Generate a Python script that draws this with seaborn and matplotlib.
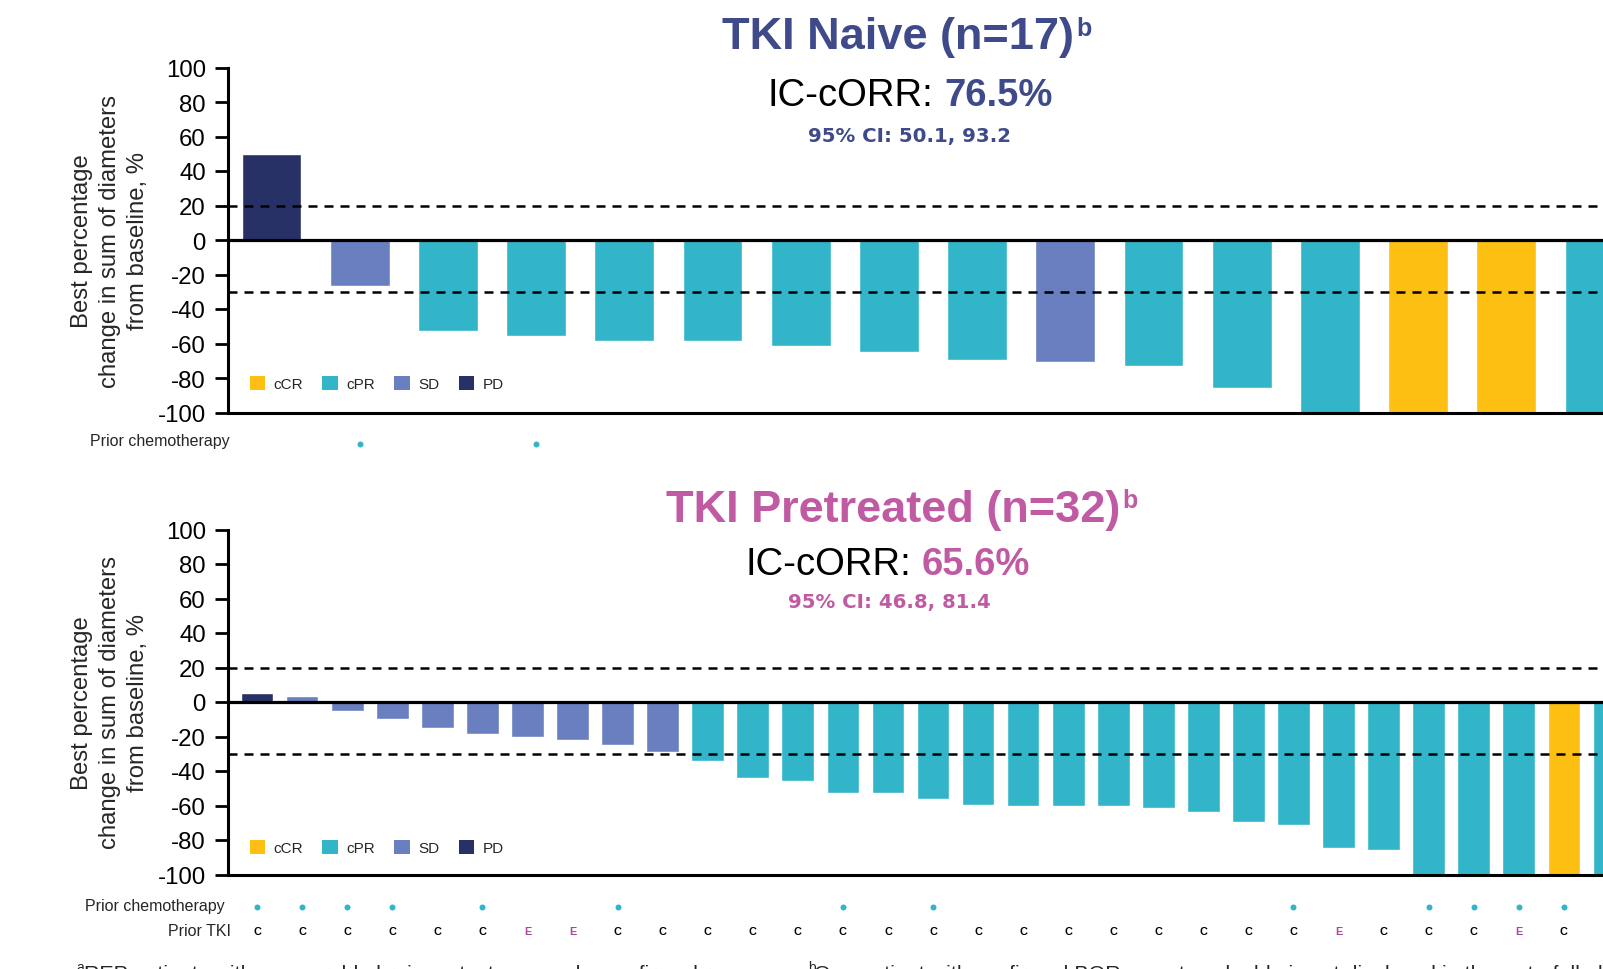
import matplotlib
matplotlib.use("Agg")
import matplotlib.pyplot as plt
from matplotlib.patches import Patch
from matplotlib.transforms import blended_transform_factory
import pandas as pd
import seaborn as sns

# ---------------------------------------------------------------- data
response_order = ["cCR", "cPR", "SD", "PD"]

naive_change = [50, -26.5, -52.5, -55.5, -58.5, -58.5, -61.5, -65, -69.5,
                -70.5, -73, -86, -100, -100, -100, -100]
naive_response = ["PD", "SD", "cPR", "cPR", "cPR", "cPR", "cPR", "cPR", "cPR",
                  "SD", "cPR", "cPR", "cPR", "cCR", "cCR", "cPR"]
naive_prior_chemo = [0, 1, 0, 1, 0, 0, 0, 0, 0, 0, 0, 0, 0, 0, 0, 0]

pretreated_change = [5.5, 3.5, -5.5, -10, -15, -18.5, -20.5, -22, -25, -29,
                     -34, -44, -46, -52.5, -52.5, -56.5, -59.5, -60, -60.5,
                     -60.5, -61.5, -63.5, -69.5, -71.5, -84.5, -86, -100,
                     -100, -100, -100, -100]
pretreated_response = ["PD", "SD", "SD", "SD", "SD", "SD", "SD", "SD", "SD",
                       "SD", "cPR", "cPR", "cPR", "cPR", "cPR", "cPR", "cPR",
                       "cPR", "cPR", "cPR", "cPR", "cPR", "cPR", "cPR", "cPR",
                       "cPR", "cPR", "cPR", "cPR", "cCR", "cPR"]
# prior-therapy annotations for patients 1-30
pretreated_prior_chemo = [1, 1, 1, 1, 0, 1, 0, 0, 1, 0, 0, 0, 0, 1, 0, 1, 0,
                          0, 0, 0, 0, 0, 0, 1, 0, 0, 1, 1, 1, 1]
pretreated_prior_tki = ["C", "C", "C", "C", "C", "C", "E", "E", "C", "C", "C",
                        "C", "C", "C", "C", "C", "C", "C", "C", "C", "C", "C",
                        "C", "C", "E", "C", "C", "C", "E", "C"]

naive_title = "TKI Naive (n=17)"
naive_orr = "76.5%"
naive_ci = "95% CI: 50.1, 93.2"
pretreated_title = "TKI Pretreated (n=32)"
pretreated_orr = "65.6%"
pretreated_ci = "95% CI: 46.8, 81.4"
ylabel = "Best percentage\nchange in sum of diameters\nfrom baseline, %"

# ---------------------------------------------------------------- style
palette = {"cCR": "#FCBF12", "cPR": "#33B5C9", "SD": "#6A7FC0", "PD": "#283166"}
NAVY_TITLE = "#3E4A89"
MAGENTA = "#C05AA2"
E_COLOR = "#B0449C"
DOT = "#33B5C9"

sns.set_style("white")
plt.rcParams["font.family"] = ["Liberation Sans", "DejaVu Sans"]
plt.rcParams["axes.unicode_minus"] = False

W, H = 1603, 970
fig = plt.figure(figsize=(W / 100, H / 100), dpi=100)


def fx(px):
    return px / W


def fy(py):
    return 1 - py / H


AX_LEFT, AX_WIDTH, AX_HEIGHT = 227.5, 1411, 345
ax_top = fig.add_axes([fx(AX_LEFT), fy(413.5), AX_WIDTH / W, AX_HEIGHT / H])
ax_bot = fig.add_axes([fx(AX_LEFT), fy(875.5), AX_WIDTH / W, AX_HEIGHT / H])


def draw_panel(ax, change, response, bar_width, pad, legend_y):
    n = len(change)
    df = pd.DataFrame({
        "patient": [f"P{i + 1:02d}" for i in range(n)],
        "change": change,
        "response": response,
    })
    sns.barplot(data=df, x="patient", y="change", hue="response",
                hue_order=response_order, palette=palette, dodge=False,
                width=bar_width, saturation=1, errorbar=None, legend=False,
                ax=ax, zorder=2)
    ax.set_xlim(-pad, n - 1 + pad)
    ax.set_ylim(-100, 100)
    ax.set_yticks(range(-100, 101, 20))
    ax.set_xticks([])
    ax.set_xlabel("")
    ax.set_ylabel("")
    ax.tick_params(axis="y", direction="out", length=9.5, width=2.0, pad=6,
                   labelsize=17.3, colors="black", left=True)
    for side in ("top", "right"):
        ax.spines[side].set_visible(False)
    for side in ("left", "bottom"):
        ax.spines[side].set_linewidth(2.2)
        ax.spines[side].set_color("black")
    ax.axhline(0, color="black", lw=2.3, zorder=5)
    for ref in (20, -30):
        ax.axhline(ref, color="black", lw=1.8, ls=(0, (3.6, 2.8)), zorder=5)
    handles = [Patch(facecolor=palette[k], edgecolor="none", label=k)
               for k in response_order]
    ax.legend(handles=handles, loc="center left",
              bbox_to_anchor=(22 / AX_WIDTH, legend_y), ncol=4, frameon=False,
              fontsize=11, handlelength=1.03, handleheight=1.03,
              handletextpad=0.55, columnspacing=1.25, borderaxespad=0,
              borderpad=0)


draw_panel(ax_top, naive_change, naive_response, 0.677, 0.5, 0.085)
draw_panel(ax_bot, pretreated_change, pretreated_response, 0.725, 0.657, 0.079)

# y-axis label for each panel
for yc in (241, 703):
    fig.text(fx(110), fy(yc), ylabel, rotation=90, ha="center", va="center",
             multialignment="center", fontsize=17.2, linespacing=1.36)

# prior therapy rows under each panel
tr_top = blended_transform_factory(ax_top.transData, fig.transFigure)
tr_bot = blended_transform_factory(ax_bot.transData, fig.transFigure)

fig.text(fx(230), fy(441.6), "Prior chemotherapy", ha="right", va="center",
         fontsize=11.5)
xs = [i for i, v in enumerate(naive_prior_chemo) if v]
ax_top.plot(xs, [fy(444.7)] * len(xs), "o", color=DOT, ms=4.3, mew=0,
            transform=tr_top, clip_on=False)

fig.text(fx(225), fy(906.8), "Prior chemotherapy", ha="right", va="center",
         fontsize=11.5)
xs = [i for i, v in enumerate(pretreated_prior_chemo) if v]
ax_bot.plot(xs, [fy(907.5)] * len(xs), "o", color=DOT, ms=4.3, mew=0,
            transform=tr_bot, clip_on=False)

fig.text(fx(231), fy(932), "Prior TKI", ha="right", va="center", fontsize=11.5)
for i, letter in enumerate(pretreated_prior_tki):
    ax_bot.text(i, fy(932), letter, transform=tr_bot, ha="center",
                va="center", fontsize=7.8, fontweight="bold",
                color=E_COLOR if letter == "E" else "black", clip_on=False)

# panel headers
renderer = fig.canvas.get_renderer()


def header(title, cx_title, y_title, colour, orr, left_orr, y_orr, ci, cx_ci,
           y_ci):
    t = fig.text(fx(cx_title), fy(y_title), title, ha="center",
                 va="baseline", fontsize=32.5, fontweight="bold", color=colour)
    bb = t.get_window_extent(renderer=renderer)
    cap_top = y_title - 0.716 * 32.5 * 100 / 72
    fig.text((bb.x1 + 2) / W, fy(cap_top), "b", ha="left", va="top",
             fontsize=18, fontweight="bold", color=colour)
    fs = 27.5
    px = fs * 100 / 72
    split = left_orr + 4.333 * px
    fig.text(fx(split), fy(y_orr), "IC-cORR:", ha="right", va="baseline",
             fontsize=fs, color="black")
    fig.text(fx(split + 0.278 * px), fy(y_orr), orr, ha="left",
             va="baseline", fontsize=fs, fontweight="bold", color=colour)
    fig.text(fx(cx_ci), fy(y_ci), ci, ha="center", va="baseline",
             fontsize=14.2, fontweight="bold", color=colour,
             family=["DejaVu Sans"])


header(naive_title, 898, 49, NAVY_TITLE, naive_orr, 768, 106, naive_ci, 910,
       141.7)
header(pretreated_title, 892.8, 521.7, MAGENTA, pretreated_orr, 746, 575,
       pretreated_ci, 889, 607.7)

# footnotes along the lower edge
fig.text(fx(76.5), fy(972), "a", fontsize=10, va="baseline")
fig.text(fx(84), fy(980),
         "REP patients with measurable brain metastases and a confirmed response.",
         fontsize=15.4, va="baseline")
fig.text(fx(807.7), fy(972), "b", fontsize=10, va="baseline")
fig.text(fx(814), fy(980),
         "One patient with confirmed BOR as not evaluable is not displayed in "
         "the waterfall plot.",
         fontsize=15.4, va="baseline")

fig.savefig("out.png", dpi=100)
